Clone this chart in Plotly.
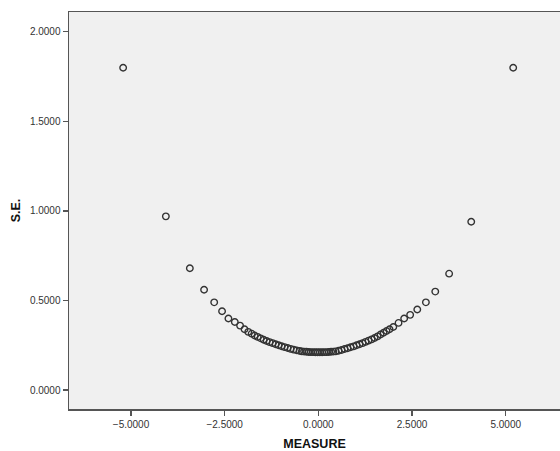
import plotly.graph_objects as go

measure = [
    -5.21, -4.07, -3.43, -3.05, -2.78, -2.57, -2.40, -2.23, -2.09, -1.97, -1.87,
    -1.78, -1.70, -1.62, -1.54, -1.46, -1.38, -1.30, -1.22, -1.14, -1.06, -0.98,
    -0.90, -0.82, -0.74, -0.66, -0.58, -0.50,
    -0.44, -0.38, -0.32, -0.26, -0.20, -0.14, -0.08, -0.02, 0.04, 0.10, 0.16,
    0.22, 0.28, 0.34, 0.40, 0.46,
    0.54, 0.62, 0.70, 0.78, 0.86, 0.94, 1.02, 1.10, 1.18, 1.26, 1.34, 1.42,
    1.50, 1.58, 1.66, 1.74, 1.82, 1.90, 2.00, 2.14, 2.29, 2.45, 2.64, 2.87,
    3.12, 3.49, 4.08, 5.20,
]
se = [
    1.80, 0.97, 0.68, 0.56, 0.49, 0.44, 0.40, 0.38, 0.36, 0.34, 0.325,
    0.315, 0.305, 0.297, 0.289, 0.281, 0.274, 0.268, 0.262, 0.256, 0.250, 0.245,
    0.240, 0.235, 0.230, 0.226, 0.222, 0.219,
    0.216, 0.215, 0.214, 0.213, 0.212, 0.212, 0.211, 0.211, 0.211, 0.211, 0.212,
    0.212, 0.213, 0.214, 0.215, 0.216,
    0.220, 0.224, 0.229, 0.234, 0.239, 0.244, 0.250, 0.256, 0.262, 0.269, 0.276, 0.283,
    0.291, 0.300, 0.310, 0.320, 0.330, 0.340, 0.352, 0.375, 0.40, 0.42, 0.45, 0.49,
    0.55, 0.65, 0.94, 1.80,
]
x_ticks = [-5.0, -2.5, 0.0, 2.5, 5.0]
y_ticks = [0.0, 0.5, 1.0, 1.5, 2.0]

fig = go.Figure()
fig.add_trace(go.Scatter(
    x=measure, y=se, mode="markers",
    marker=dict(symbol="circle-open", size=6.5, color="#333333", line=dict(width=1.4)),
    showlegend=False, hoverinfo="skip",
))

font_family = "Liberation Sans, Arial, sans-serif"
fig.update_layout(
    width=560, height=451,
    margin=dict(l=69, r=0, t=12, b=40),
    paper_bgcolor="white", plot_bgcolor="#f0f0f0",
    font=dict(family=font_family, size=10, color="#333"),
    xaxis=dict(
        range=[-6.655, 6.449], tickvals=x_ticks, tickformat=".4f",
        showgrid=False, zeroline=False, showline=True, linecolor="#555", linewidth=1.5,
        mirror=True, ticks="outside", ticklen=5, tickcolor="#555", tickwidth=1.2,
        title=dict(text="<b>MEASURE</b>", font=dict(size=12.5, color="#111"), standoff=13),
    ),
    yaxis=dict(
        range=[-0.1056, 2.111], tickvals=y_ticks, tickformat=".4f",
        showgrid=False, zeroline=False, showline=True, linecolor="#555", linewidth=1.5,
        mirror=False, ticks="outside", ticklen=5, tickcolor="#555", tickwidth=1.2,
        title=dict(text="<b>S.E.</b>", font=dict(size=12.5, color="#111"), standoff=6),
    ),
)
fig.write_html(
    "out.html",
    config={"displayModeBar": False, "staticPlot": True},
    post_script="document.body.style.margin='0';document.body.style.padding='0';",
)
